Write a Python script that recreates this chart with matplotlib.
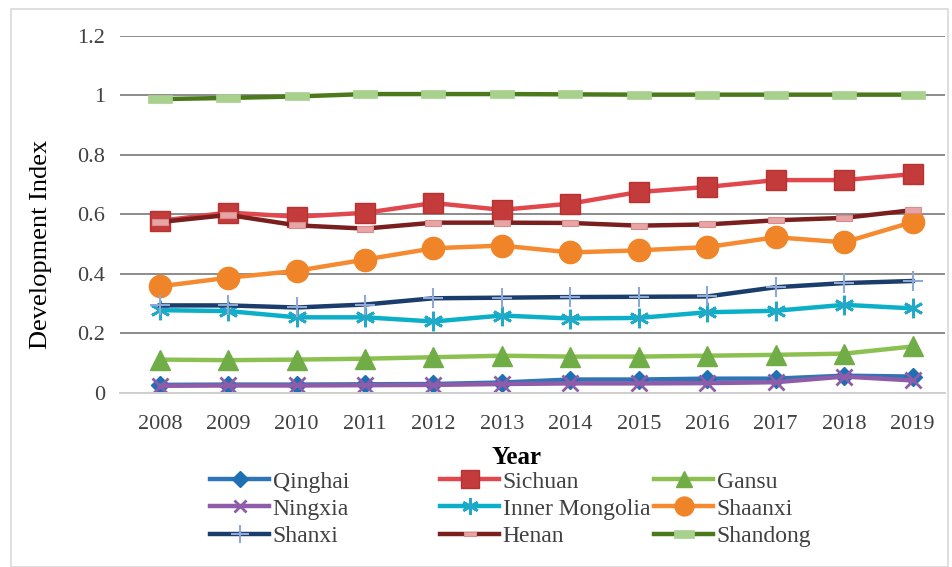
import matplotlib
matplotlib.use("Agg")
import matplotlib.pyplot as plt
from matplotlib.patches import Rectangle

plt.rcParams['font.family'] = ['Liberation Serif', 'DejaVu Serif']

years = [2008, 2009, 2010, 2011, 2012, 2013, 2014, 2015, 2016, 2017, 2018, 2019]

qinghai = [0.027, 0.028, 0.028, 0.029, 0.030, 0.035, 0.045, 0.045, 0.048, 0.048, 0.058, 0.055]
sichuan = [0.578, 0.606, 0.592, 0.605, 0.638, 0.615, 0.636, 0.675, 0.692, 0.715, 0.715, 0.735]
gansu = [0.112, 0.110, 0.112, 0.115, 0.120, 0.125, 0.122, 0.122, 0.125, 0.128, 0.132, 0.156]
ningxia = [0.024, 0.025, 0.025, 0.026, 0.027, 0.030, 0.032, 0.032, 0.033, 0.036, 0.055, 0.042]
inner_mongolia = [0.278, 0.275, 0.254, 0.254, 0.240, 0.260, 0.250, 0.252, 0.271, 0.276, 0.296, 0.284]
shaanxi = [0.358, 0.387, 0.410, 0.448, 0.486, 0.495, 0.472, 0.479, 0.490, 0.523, 0.506, 0.574]
shanxi = [0.294, 0.294, 0.287, 0.297, 0.318, 0.320, 0.322, 0.323, 0.324, 0.355, 0.369, 0.376]
henan = [0.574, 0.598, 0.563, 0.552, 0.572, 0.572, 0.571, 0.562, 0.566, 0.580, 0.588, 0.614]
shandong = [0.987, 0.991, 0.996, 1.004, 1.004, 1.004, 1.003, 1.002, 1.002, 1.002, 1.002, 1.002]

yticks = [0, 0.2, 0.4, 0.6, 0.8, 1.0, 1.2]
ytick_labels = ['0', '0.2', '0.4', '0.6', '0.8', '1', '1.2']

bar_marker = [(-1, -0.35), (1, -0.35), (1, 0.35), (-1, 0.35), (-1, -0.35)]

series = [
    ('Qinghai', qinghai, dict(color='#2E75B6', marker='D', ms=9, mfc='#1F6FB5', mec='#1F6FB5')),
    ('Sichuan', sichuan, dict(color='#E0484E', marker='s', ms=15, mfc='#C33B3B', mec='#B83232')),
    ('Gansu', gansu, dict(color='#8CC152', marker='^', ms=14, mfc='#70AD47', mec='#70AD47')),
    ('Ningxia', ningxia, dict(color='#8E5CA8', marker='x', ms=11, mew=2, mfc='#8E5CA8', mec='#8E5CA8')),
    ('Inner Mongolia', inner_mongolia, dict(color='#0BB0C8', marker=(6, 2, 0), ms=14, mew=2,
                                             mfc='#0BB0C8', mec='#22A9C8')),
    ('Shaanxi', shaanxi, dict(color='#F58A30', marker='o', ms=16, mfc='#F08428', mec='#F08428')),
    ('Shanxi', shanxi, dict(color='#1B3D6B', marker='+', ms=15, mew=1.5, mfc='#8FA9D6', mec='#8FA9D6')),
    ('Henan', henan, dict(color='#7A1E1E', marker=bar_marker, ms=11, mfc='#E8A5A5', mec='#D98C8C', mew=0.8)),
    ('Shandong', shandong, dict(color='#4B7A1C', marker=bar_marker, ms=17, mfc='#A9D18E', mec='#A9D18E', mew=0.5)),
]

W, H = 953, 567
fig = plt.figure(figsize=(W / 100, H / 100), dpi=100)
ax = fig.add_axes([0.126, 0.307, 0.866, 0.630])

lines = []
for name, vals, st in series:
    ln, = ax.plot(years, vals, lw=3.2, label=name, **st)
    lines.append(ln)

ax.set_xlim(2007.42, 2019.48)
ax.set_ylim(0, 1.2)
ax.set_yticks(yticks)
ax.set_yticklabels(ytick_labels)
ax.set_xticks(years)
ax.set_xticklabels([str(y) for y in years])
ax.tick_params(length=0, labelsize=16, colors='#404040')
ax.tick_params(axis='x', pad=16)
ax.tick_params(axis='y', pad=11)
ax.grid(axis='y', color='#8C8C8C', lw=1.4)
ax.set_axisbelow(True)
for s in ['top', 'right', 'left']:
    ax.spines[s].set_visible(False)
ax.spines['bottom'].set_color('#D0D0D0')
ax.spines['bottom'].set_linewidth(1.4)

fig.text(40.7 / W, 1 - 244 / H, 'Development Index', rotation=90, ha='center', va='center',
         fontsize=19, color='black')
fig.text(517 / W, 1 - 457 / H, 'Year', ha='center', va='center', fontsize=18,
         fontweight='bold', color='black')

# legend laid out row by row, equal column widths like the original
col_x = [210, 440, 654]
for c in range(3):
    hs = lines[c::3]
    leg = fig.legend(hs, [h.get_label() for h in hs], loc='upper left',
                     bbox_to_anchor=(col_x[c] / W, 1 - 471 / H), frameon=False,
                     fontsize=17, handlelength=2.5, handletextpad=0.15,
                     labelspacing=0.24, borderpad=0, borderaxespad=0)
    for t in leg.get_texts():
        t.set_color('#404040')
    for lh, h in zip(leg.legend_handles, hs):
        lh.set_markersize(h.get_markersize() * 0.85)

fig.patches.append(Rectangle((11 / W, 0), 937 / W, 1 - 9 / H, transform=fig.transFigure,
                             fill=False, ec='#D9D9D9', lw=1.2))

fig.savefig('out.png', dpi=100)
